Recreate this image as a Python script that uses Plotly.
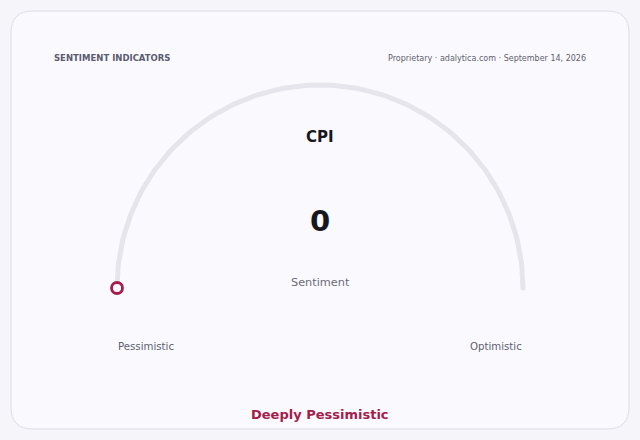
import numpy as np
import plotly.graph_objects as go

# gauge data
title = "CPI"
subtitle = "Sentiment"
gauge_min = 0
gauge_max = 100
value = 0
left_label = "Pessimistic"
right_label = "Optimistic"
verdict = "Deeply Pessimistic"
header_left = "SENTIMENT INDICATORS"
header_right = "Proprietary · adalytica.com · September 14, 2026"

W, H = 640, 440
cx, cy, r = 320, 288, 203
track_col = "#e5e5eb"
accent = "#a51c4b"

fig = go.Figure()

# background track (semicircle)
t = np.linspace(np.pi, 0, 200)
fig.add_trace(go.Scatter(x=cx + r * np.cos(t), y=cy - r * np.sin(t), mode="lines",
                         line=dict(color=track_col, width=5), hoverinfo="skip"))
fig.add_trace(go.Scatter(x=[cx - r, cx + r], y=[cy, cy], mode="markers",
                         marker=dict(color=track_col, size=5), hoverinfo="skip"))

# value marker
frac = (value - gauge_min) / (gauge_max - gauge_min)
ang = np.pi * (1 - frac)
fig.add_trace(go.Scatter(x=[cx + r * np.cos(ang)], y=[cy - r * np.sin(ang)], mode="markers",
                         marker=dict(color="#fafaff", size=11, line=dict(color=accent, width=2.8)),
                         hoverinfo="skip"))

font = "DejaVu Sans, sans-serif"
ann = [
    dict(x=52, y=58, text="<b>" + header_left + "</b>", xanchor="left",
         font=dict(size=8.5, color="#5b5b70")),
    dict(x=588, y=58, text=header_right, xanchor="right",
         font=dict(size=8, color="#5f5f6e")),
    dict(x=cx, y=137, text="<b>" + title + "</b>", font=dict(size=15, color="#17171f")),
    dict(x=cx, y=221, text="<b>%d</b>" % value, font=dict(size=29, color="#17171f")),
    dict(x=cx, y=282, text=subtitle, font=dict(size=11.3, color="#6b6b78")),
    dict(x=cx - r - 1, y=346, text=left_label, xanchor="left", font=dict(size=10.2, color="#5f5f6e")),
    dict(x=cx + r + 1, y=346, text=right_label, xanchor="right", font=dict(size=10.2, color="#5f5f6e")),
    dict(x=cx, y=414, text="<b>" + verdict + "</b>", font=dict(size=13, color=accent)),
]
for a in ann:
    a.update(xref="x", yref="y", showarrow=False, yanchor="middle")
    a["font"]["family"] = font

# rounded card
x0, y0, x1, y1, rr = 11, 11, 629, 429, 22
path = (f"M{x0+rr},{y0} L{x1-rr},{y0} Q{x1},{y0} {x1},{y0+rr} L{x1},{y1-rr} "
        f"Q{x1},{y1} {x1-rr},{y1} L{x0+rr},{y1} Q{x0},{y1} {x0},{y1-rr} "
        f"L{x0},{y0+rr} Q{x0},{y0} {x0+rr},{y0} Z")

fig.update_layout(
    width=W, height=H, margin=dict(l=0, r=0, t=0, b=0),
    paper_bgcolor="#f6f6fa", plot_bgcolor="rgba(0,0,0,0)",
    showlegend=False, annotations=ann,
    shapes=[dict(type="path", path=path, xref="x", yref="y", layer="below",
                 fillcolor="#fafafe", line=dict(color="#dcdde7", width=1))],
    xaxis=dict(range=[0, W], visible=False, fixedrange=True),
    yaxis=dict(range=[H, 0], visible=False, fixedrange=True),
)
fig.write_html("out.html", config={"displayModeBar": False},
               post_script="document.body.style.margin='0';document.body.style.background='#f6f6fa';")
